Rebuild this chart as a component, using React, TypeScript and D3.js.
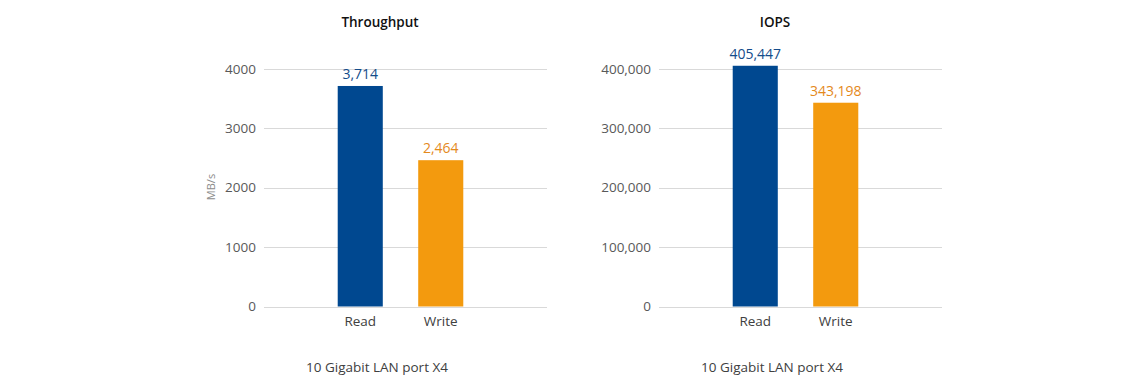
import React from "react";
import * as d3 from "d3";

const categories = ["Read", "Write"];
const throughputValues = [3714, 2464];
const iopsValues = [405447, 343198];
const throughputTicks = [0, 1000, 2000, 3000, 4000];
const iopsTicks = [0, 100000, 200000, 300000, 400000];
const titles = ["Throughput", "IOPS"];
const captions = ["10 Gigabit LAN port X4", "10 Gigabit LAN port X4"];
const yTitles = ["MB/s", ""];

const barColors = ["#004890", "#f39a0e"];
const labelColors = ["#144c8a", "#e4891c"];
const FONT = "'Open Sans', 'Noto Sans', sans-serif";

type PanelProps = {
  x0: number;
  values: number[];
  ticks: number[];
  title: string;
  caption: string;
  yTitle: string;
  tickFmt: (v: number) => string;
};

function Panel({ x0, values, ticks, title, caption, yTitle, tickFmt }: PanelProps) {
  const gridW = 283;
  const y = d3.scaleLinear().domain([0, ticks[ticks.length - 1]]).range([306.5, 69]);
  const x = d3
    .scaleBand<string>()
    .domain(categories)
    .range([x0 + 56, x0 + 217])
    .paddingInner(0.44)
    .paddingOuter(0.22);
  const fmt = d3.format(",");
  const cx = x0 + 116;
  return (
    <g>
      <text x={cx} y={27} textAnchor="middle" fontFamily={FONT} fontWeight={600} fontSize={13.5} fill="#111">
        {title}
      </text>
      {ticks.map((t) => (
        <g key={t}>
          <line x1={x0} x2={x0 + gridW} y1={Math.round(y(t)) + 0.5} y2={Math.round(y(t)) + 0.5} stroke="#d9d9d9" strokeWidth={1} />
          <text x={x0 - 8} y={y(t) + 4.5} textAnchor="end" fontFamily={FONT} fontSize={13.5} fill="#595959">
            {tickFmt(t)}
          </text>
        </g>
      ))}
      {yTitle && (
        <text
          transform={`translate(${x0 - 49},${187}) rotate(-90)`}
          textAnchor="middle"
          fontFamily={FONT}
          fontSize={11}
          fill="#8c8c8c"
        >
          {yTitle}
        </text>
      )}
      {categories.map((c, i) => (
        <g key={c}>
          <rect
            x={x(c)!}
            y={y(values[i])}
            width={x.bandwidth()}
            height={y(0) - y(values[i])}
            fill={barColors[i]}
          />
          <text
            x={x(c)! + x.bandwidth() / 2}
            y={y(values[i]) - 7}
            textAnchor="middle"
            fontFamily={FONT}
            fontWeight={500}
            fontSize={14}
            fill={labelColors[i]}
          >
            {fmt(values[i])}
          </text>
          <text
            x={x(c)! + x.bandwidth() / 2}
            y={326}
            textAnchor="middle"
            fontFamily={FONT}
            fontSize={13.5}
            fill="#404040"
          >
            {c}
          </text>
        </g>
      ))}
      <text x={x0 + 113} y={372} textAnchor="middle" fontFamily={FONT} fontSize={13.5} fill="#404040">
        {caption}
      </text>
    </g>
  );
}

export default function App() {
  return (
    <svg
      width={1140}
      height={390}
      style={{ position: "absolute", left: 0, top: 0, background: "#fff" }}
    >
      <rect width={1140} height={390} fill="#fff" />
      <Panel
        x0={264}
        values={throughputValues}
        ticks={throughputTicks}
        title={titles[0]}
        caption={captions[0]}
        yTitle={yTitles[0]}
        tickFmt={(v) => String(v)}
      />
      <Panel
        x0={659}
        values={iopsValues}
        ticks={iopsTicks}
        title={titles[1]}
        caption={captions[1]}
        yTitle={yTitles[1]}
        tickFmt={(v) => d3.format(",")(v)}
      />
    </svg>
  );
}
